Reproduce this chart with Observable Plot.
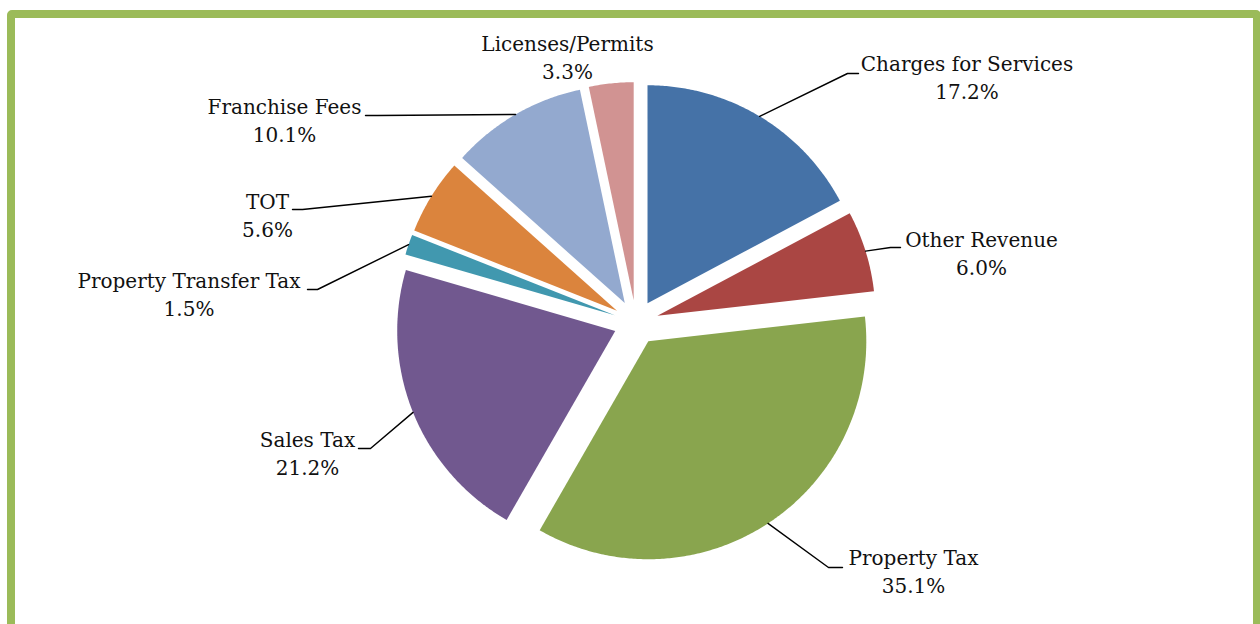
<!DOCTYPE html>
<html>
<head>
<meta charset="utf-8">
<script src="https://cdn.jsdelivr.net/npm/d3@7"></script>
<script src="https://cdn.jsdelivr.net/npm/@observablehq/plot@0.6"></script>
<style>
  html, body { margin: 0; padding: 0; background: #fff; overflow: hidden; width: 1260px; height: 624px; }
  #wrap { position: relative; width: 1260px; height: 624px; }
  #frame { position: absolute; left: 7px; top: 10px; width: 1238px; height: 640px;
           border: 8px solid #9BBB59; border-radius: 5px; pointer-events: none; }
  svg { position: absolute; left: 0; top: 0; }
</style>
</head>
<body>
<div id="wrap"><div id="frame"></div></div>
<script>
// ---- data ----
const names = ["Charges for Services", "Other Revenue", "Property Tax", "Sales Tax",
               "Property Transfer Tax", "TOT", "Franchise Fees", "Licenses/Permits"];
const shares = [17.2, 6.0, 35.1, 21.2, 1.5, 5.6, 10.1, 3.3];
const colors = ["#4572A7", "#AA4643", "#89A54E", "#71588F", "#4198AF", "#DB843D", "#93A9CF", "#D19392"];

// ---- label layout (offsets from pie centre, in chart units) ----
const labelLayout = [
  {name: "Charges for Services",  lx: 331,    ly: -246,  ex: 222.5,  ey: -249, elbow: -11},
  {name: "Other Revenue",         lx: 345.5,  ly: -70,   ex: 264.5,  ey: -75,  elbow: -10},
  {name: "Property Tax",          lx: 277.5,  ly: 248,   ex: 206.5,  ey: 245,  elbow: -14},
  {name: "Sales Tax",             lx: -328.5, ly: 130,   ex: -277.5, ey: 126,  elbow: 12},
  {name: "Property Transfer Tax", lx: -447,   ly: -29,   ex: -328.5, ey: -33,  elbow: 10},
  {name: "TOT",                   lx: -368.5, ly: -108,  ex: -343.5, ey: -113, elbow: 10},
  {name: "Franchise Fees",        lx: -351.5, ly: -203,  ex: -270.5, ey: -207, elbow: 12},
  {name: "Licenses/Permits",      lx: -68.5,  ly: -266.5, ex: null,  ey: null, elbow: 0}
];

const R = 218, EXPLODE = 22.4;
const total = d3.sum(shares);
let acc = 0;
const slices = names.map((name, i) => {
  const a0 = acc / total * 2 * Math.PI;
  acc += shares[i];
  const a1 = acc / total * 2 * Math.PI;
  const mid = (a0 + a1) / 2;
  return {name, share: shares[i], a0, a1, mid,
          ox: EXPLODE * Math.sin(mid), oy: -EXPLODE * Math.cos(mid)};
});

const slicePts = [];
for (const s of slices) {
  slicePts.push({name: s.name, x: s.ox, y: s.oy});
  const n = Math.max(2, Math.ceil((s.a1 - s.a0) / (Math.PI / 360)));
  for (let k = 0; k <= n; k++) {
    const a = s.a0 + (s.a1 - s.a0) * k / n;
    slicePts.push({name: s.name, x: s.ox + R * Math.sin(a), y: s.oy - R * Math.cos(a)});
  }
}

const leaderPts = [];
const labels = [];
for (const s of slices) {
  const L = labelLayout.find(d => d.name === s.name);
  labels.push({x: L.lx, y: L.ly, text: s.name + "\n" + s.share.toFixed(1) + "%"});
  if (L.ex != null) {
    leaderPts.push({name: s.name, x: s.ox + R * Math.sin(s.mid), y: s.oy - R * Math.cos(s.mid)});
    leaderPts.push({name: s.name, x: L.ex + L.elbow, y: L.ey});
    leaderPts.push({name: s.name, x: L.ex, y: L.ey});
  }
}

const chart = Plot.plot({
  width: 1260,
  height: 624,
  margin: 0,
  x: {domain: [-635.5, 624.5], axis: null},
  y: {domain: [-322, 302], range: [0, 624], axis: null},
  color: {domain: names, range: colors},
  style: {background: "transparent"},
  marks: [
    Plot.line(slicePts, {x: "x", y: "y", z: "name", fill: "name", stroke: "none", curve: "linear-closed"}),
    Plot.line(leaderPts, {x: "x", y: "y", z: "name", stroke: "#000", strokeWidth: 1.4}),
    Plot.text(labels, {x: "x", y: "y", text: "text", fontFamily: "DejaVu Serif", fontSize: 20,
                       lineHeight: 1.4, fill: "#111", textAnchor: "middle", lineAnchor: "middle"})
  ]
});
document.getElementById("wrap").prepend(chart);
</script>
</body>
</html>
